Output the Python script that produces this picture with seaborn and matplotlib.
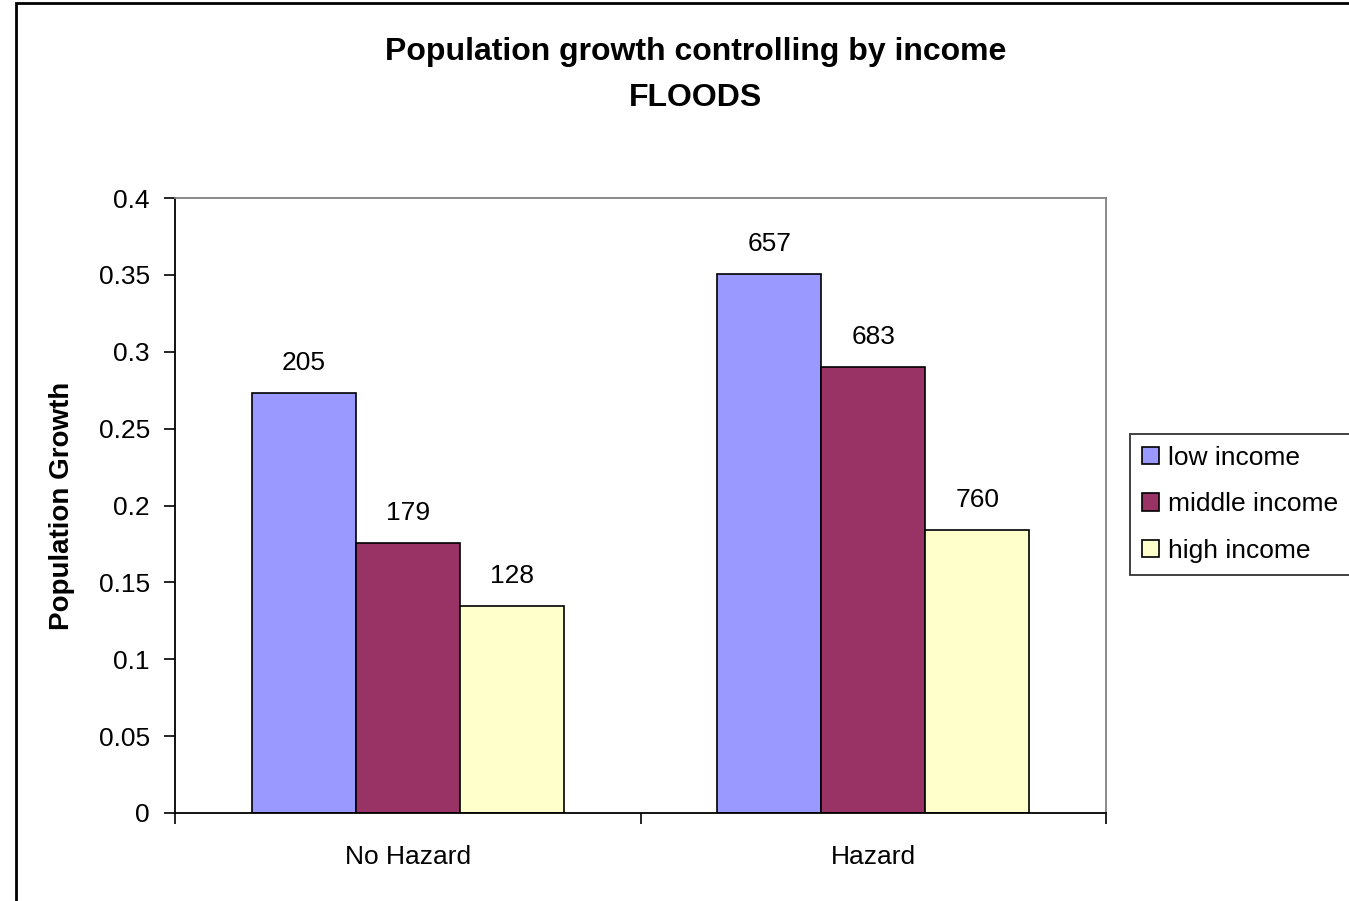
import numpy as np
import pandas as pd
import seaborn as sns
import matplotlib.pyplot as plt
from matplotlib.patches import Rectangle

# data
hazard_groups = ["No Hazard", "Hazard"]
income_levels = ["low income", "middle income", "high income"]
growth_no_hazard = [0.273, 0.1755, 0.1345]
growth_hazard = [0.3505, 0.290, 0.184]
counts_no_hazard = [205, 179, 128]
counts_hazard = [657, 683, 760]

colors = {"low income": "#9999FF", "middle income": "#993366", "high income": "#FFFFCC"}

rows = []
for g, vals in zip(hazard_groups, [growth_no_hazard, growth_hazard]):
    for inc, v in zip(income_levels, vals):
        rows.append({"group": g, "income": inc, "growth": v})
df = pd.DataFrame(rows)

sns.set_style("white")
plt.rcParams['font.family'] = ['Liberation Sans', 'DejaVu Sans']
plt.rcParams['text.color'] = "black"
plt.rcParams['xtick.color'] = "black"
plt.rcParams['ytick.color'] = "black"
plt.rcParams['axes.labelcolor'] = "black"

fs = 19

fig = plt.figure(figsize=(13.49, 9.01), dpi=100)
ax = fig.add_axes([175 / 1349, 1 - 813 / 901, (1106 - 175) / 1349, (813 - 198) / 901])

sns.barplot(data=df, x="group", y="growth", hue="income", order=hazard_groups,
            hue_order=income_levels, palette=colors, width=0.67,
            edgecolor="black", linewidth=1.2, saturation=1, ax=ax)

# data labels (counts)
for inc_i, cont in enumerate(ax.containers):
    labs = [counts_no_hazard[inc_i], counts_hazard[inc_i]]
    ax.bar_label(cont, labels=[str(l) for l in labs], padding=13, fontsize=fs)

ax.set_ylim(0, 0.4)
ax.set_xlim(-0.5, 1.5)
ax.set_yticks(np.arange(0, 0.401, 0.05))
ax.set_yticklabels(["0", "0.05", "0.1", "0.15", "0.2", "0.25", "0.3", "0.35", "0.4"], fontsize=fs)
ax.set_xticks([-0.5, 0.5, 1.5])
ax.set_xticklabels([])
ax.set_xticks([0, 1], minor=True)
ax.set_xticklabels(hazard_groups, minor=True, fontsize=fs)
ax.tick_params(axis="x", which="minor", bottom=False, length=0, pad=23)
ax.tick_params(axis="x", which="major", bottom=True, direction="out", length=8, width=1.2)
ax.tick_params(axis="y", left=True, direction="out", length=8, width=1.2, pad=10)
ax.set_xlabel("")
ax.set_ylabel("Population Growth", fontsize=20, fontweight="bold", labelpad=17)

for s in ["left", "bottom"]:
    ax.spines[s].set_color("black")
    ax.spines[s].set_linewidth(1.3)
for s in ["top", "right"]:
    ax.spines[s].set_color("#808080")
    ax.spines[s].set_linewidth(1.3)

leg = ax.legend(loc="upper left", bbox_to_anchor=(1130 / 1349, 1 - 434 / 901),
                bbox_transform=fig.transFigure, fontsize=fs, frameon=True,
                fancybox=False, edgecolor="black", handlelength=0.65, handleheight=0.65,
                handletextpad=0.35, borderpad=0.45, labelspacing=0.85, borderaxespad=0)
leg.get_frame().set_linewidth(1.3)

fig.text(0.5155, 1 - 52 / 901, "Population growth controlling by income", ha="center", va="center",
         fontsize=23, fontweight="bold")
fig.text(0.5155, 1 - 98 / 901, "FLOODS", ha="center", va="center", fontsize=23, fontweight="bold")

# outer chart border
fig.patches.append(Rectangle((16 / 1349, -0.05), 1.2, 1.05 - 3 / 901, transform=fig.transFigure,
                             fill=False, edgecolor="black", linewidth=2, clip_on=False))

fig.savefig("out.png", dpi=100)
